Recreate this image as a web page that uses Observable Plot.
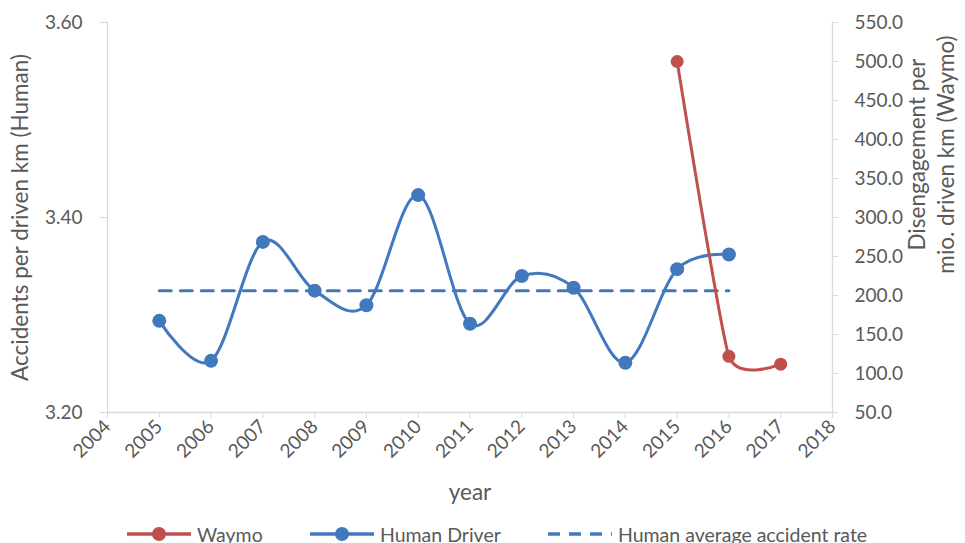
<!DOCTYPE html>
<html>
<head>
<meta charset="utf-8">
<script src="https://cdn.jsdelivr.net/npm/d3@7"></script>
<script src="https://cdn.jsdelivr.net/npm/@observablehq/plot@0.6"></script>
<style>
  body { margin: 0; background: #fff; font-family: Lato, "Open Sans", sans-serif; }
  #chart { width: 965px; height: 522px; }
  #legend { position: relative; height: 21px; width: 965px; overflow: hidden; }
  .item { position: absolute; top: 0; display: flex; align-items: center; height: 24px; color: #595959; font-size: 19.5px; white-space: nowrap; }
  .item svg { margin-right: 6px; }
</style>
</head>
<body>
<div id="chart"></div>
<div id="legend"></div>
<script>
// ---- data ----
const humanYears = [2005, 2006, 2007, 2008, 2009, 2010, 2011, 2012, 2013, 2014, 2015, 2016];
const humanRate  = [3.294, 3.253, 3.375, 3.325, 3.310, 3.423, 3.291, 3.340, 3.328, 3.251, 3.347, 3.362];
const waymoYears = [2015, 2016, 2017];
const waymoDisengagement = [500, 122, 112];
const humanAverage = 3.325;
const xTickLabels = [2004, 2005, 2006, 2007, 2008, 2009, 2010, 2011, 2012, 2013, 2014, 2015, 2016, 2017, 2018];
const leftTicks = [3.20, 3.40, 3.60];
const rightTicks = [50, 100, 150, 200, 250, 300, 350, 400, 450, 500, 550];

const blue = "#4178BE";
const red = "#C0504D";
const axisGray = "#D9D9D9";
const textGray = "#595959";

// right axis [50, 550] mapped onto left axis [3.2, 3.6]
const toLeft = v => 3.2 + (v - 50) / 500 * 0.4;
const fromLeft = y => 50 + (y - 3.2) / 0.4 * 500;

const human = humanYears.map((year, i) => ({year, value: humanRate[i]}));
const waymo = waymoYears.map((year, i) => ({year, value: waymoDisengagement[i]}));
const avg = [humanYears[0], humanYears[humanYears.length - 1]].map(year => ({year, value: humanAverage}));

const chart = Plot.plot({
  width: 965,
  height: 522,
  marginLeft: 107,
  marginRight: 133,
  marginTop: 22,
  marginBottom: 110,
  style: {fontFamily: "Lato, 'Open Sans', sans-serif", background: "#fff", color: textGray, overflow: "visible"},
  x: {domain: [2004, 2018]},
  y: {domain: [3.2, 3.6]},
  marks: [
    Plot.ruleX([2004], {stroke: axisGray, strokeWidth: 1.3}),
    Plot.ruleX([2018], {stroke: axisGray, strokeWidth: 1.3}),
    Plot.ruleY([3.2], {stroke: axisGray, strokeWidth: 1.3}),
    Plot.axisY(leftTicks, {anchor: "left", tickSize: 7, tickPadding: 18, fontSize: 19, stroke: axisGray, fill: textGray, tickFormat: d => d.toFixed(2), label: null}),
    Plot.axisY(rightTicks.map(toLeft), {anchor: "right", tickSize: 5, tickPadding: 17, fontSize: 19, stroke: axisGray, fill: textGray, tickFormat: d => fromLeft(d).toFixed(1), label: null}),
    Plot.axisX(xTickLabels, {anchor: "bottom", tickSize: 6, tickPadding: 5, tickRotate: -45, fontSize: 19, stroke: axisGray, fill: textGray, tickFormat: d => String(d), label: null}),
    Plot.text(["Accidents per driven km (Human)"], {frameAnchor: "left", textAnchor: "middle", rotate: -90, dx: -87, fontSize: 22.5, fill: textGray}),
    Plot.text(["Disengagement per\nmio. driven km (Waymo)"], {frameAnchor: "right", textAnchor: "middle", rotate: -90, dx: 98, dy: -63, fontSize: 22.5, lineHeight: 1.25, fill: textGray}),
    Plot.text(["year"], {frameAnchor: "bottom", dy: 87, fontSize: 22.5, fill: textGray}),
    Plot.line(human, {x: "year", y: "value", curve: "cardinal", stroke: blue, strokeWidth: 3}),
    Plot.dot(human, {x: "year", y: "value", r: 7, fill: blue}),
    Plot.line(avg, {x: "year", y: "value", stroke: blue, strokeWidth: 3, strokeDasharray: "12,9"}),
    Plot.line(waymo, {x: "year", y: d => toLeft(d.value), curve: "cardinal", tension: 0.5, stroke: red, strokeWidth: 3}),
    Plot.dot(waymo, {x: "year", y: d => toLeft(d.value), r: 6.5, fill: red})
  ]
});
document.getElementById("chart").appendChild(chart);

// ---- legend ----
const legendItems = [
  {label: "Waymo", color: red, dash: null, marker: true, left: 127},
  {label: "Human Driver", color: blue, dash: null, marker: true, left: 310},
  {label: "Human average accident rate", color: blue, dash: "12,9", marker: false, left: 548}
];
const legend = document.getElementById("legend");
for (const it of legendItems) {
  const div = document.createElement("div");
  div.className = "item";
  div.style.left = it.left + "px";
  div.innerHTML = `<svg width="64" height="24"><line x1="0" x2="64" y1="12" y2="12" stroke="${it.color}" stroke-width="3.5" ${it.dash ? `stroke-dasharray="${it.dash}"` : ""}/>${it.marker ? `<circle cx="32" cy="12" r="7" fill="${it.color}"/>` : ""}</svg><span>${it.label}</span>`;
  legend.appendChild(div);
}
</script>
</body>
</html>
